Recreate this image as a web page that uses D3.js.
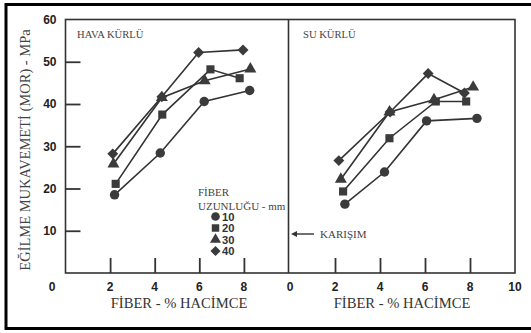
<!DOCTYPE html>
<html><head><meta charset="utf-8">
<script src="https://cdn.jsdelivr.net/npm/d3@7"></script>
<style>body{margin:0;background:#fff}svg{display:block}</style>
</head><body>
<script>
// ---- data ----
const lengths = ["10","20","30","40"];
const symbolsNames = ["circle","square","triangle","diamond"];
// HAVA KÜRLÜ (left panel): [fiber %, MOR MPa]
const hava10 = [[2.2,18.5],[4.25,28.4],[6.22,40.6],[8.26,43.2]];
const hava20 = [[2.25,21.1],[4.34,37.5],[6.5,48.2],[7.81,46.1]];
const hava30 = [[2.15,25.8],[4.32,41.5],[6.24,45.5],[8.29,48.3]];
const hava40 = [[2.12,28.2],[4.32,41.7],[5.97,52.2],[7.96,52.8]];
// SU KÜRLÜ (right panel)
const su10 = [[2.44,16.3],[4.2,23.9],[6.07,36.0],[8.31,36.6]];
const su20 = [[2.36,19.3],[4.42,31.9],[6.48,40.6],[7.83,40.6]];
const su30 = [[2.26,22.2],[4.42,38.1],[6.4,41.0],[8.14,44.0]];
const su40 = [[2.17,26.6],[4.45,38.1],[6.14,47.2],[7.75,42.6]];
const yTicks = [10,20,30,40,50];
const yLabels = [10,20,30,40,50,60];
const xTicks = [2,4,6,8];
const xLabelsLeft = [2,4,6,8];
const xLabelsRight = [0,2,4,6,8,10];

const W=531,H=333;
const svg=d3.select("body").append("svg").attr("width",W).attr("height",H);
const pTop=19.5,pBot=273,pLeft=65.5,pMid=288.5,pRight=515;
const y=d3.scaleLinear().domain([0,60]).range([pBot,pTop]);
const xL=d3.scaleLinear().domain([0,10]).range([pLeft,pMid]);
const xR=d3.scaleLinear().domain([0,10]).range([pMid+1.5,pRight]);

const ink="#333";
// outer border
svg.append("path").attr("d",`M${W+5},4.5 H6 V328.5 H${W+5}`).attr("fill","none").attr("stroke","#000").attr("stroke-width",3);

// frame
svg.append("rect").attr("x",pLeft).attr("y",pTop).attr("width",pRight-pLeft).attr("height",pBot-pTop)
  .attr("fill","none").attr("stroke",ink).attr("stroke-width",1.6);
svg.append("line").attr("x1",pMid).attr("x2",pMid).attr("y1",pTop).attr("y2",pBot).attr("stroke",ink).attr("stroke-width",1.6);

// y ticks inward
const yAx=svg.append("g").attr("transform",`translate(${pLeft},0)`)
  .call(d3.axisLeft(y).tickValues(yTicks).tickSize(-15).tickFormat(""));
yAx.select(".domain").remove();
yAx.selectAll("line").attr("stroke",ink).attr("stroke-width",1.8);
// x ticks inward
[xL,xR].forEach(sc=>{
  const g=svg.append("g").attr("transform",`translate(0,${pBot})`)
    .call(d3.axisBottom(sc).tickValues(xTicks).tickSize(-15).tickFormat(""));
  g.select(".domain").remove();
  g.selectAll("line").attr("stroke",ink).attr("stroke-width",1.8);
});

const numFont="'Liberation Sans',Arial,sans-serif";
const serif="'Liberation Serif','Times New Roman',serif";
// y labels
svg.selectAll(".yl").data(yLabels).enter().append("text")
  .attr("x",56.5).attr("y",d=>y(d)+4.3).attr("text-anchor","end")
  .attr("font-family",numFont).attr("font-weight","bold").attr("font-size",12).attr("fill","#222").text(d=>d);
svg.append("text").attr("x",52).attr("y",291).attr("text-anchor","middle")
  .attr("font-family",numFont).attr("font-weight","bold").attr("font-size",12).attr("fill","#222").text("0");
svg.selectAll(".xll").data(xLabelsLeft).enter().append("text")
  .attr("x",d=>xL(d)).attr("y",291).attr("text-anchor","middle")
  .attr("font-family",numFont).attr("font-weight","bold").attr("font-size",12).attr("fill","#222").text(d=>d);
svg.selectAll(".xlr").data(xLabelsRight).enter().append("text")
  .attr("x",d=>xR(d)).attr("y",291).attr("text-anchor","middle")
  .attr("font-family",numFont).attr("font-weight","bold").attr("font-size",12).attr("fill","#222").text(d=>d);

// titles
svg.append("text").attr("transform","translate(30,150) rotate(-90)").attr("text-anchor","middle")
  .attr("font-family",serif).attr("font-size",14.5).attr("fill","#444").text("EĞİLME MUKAVEMETİ (MOR) - MPa");
svg.append("text").attr("x",179).attr("y",308).attr("text-anchor","middle")
  .attr("font-family",serif).attr("font-size",14.6).attr("fill","#333").text("FİBER - % HACİMCE");
svg.append("text").attr("x",402).attr("y",308).attr("text-anchor","middle")
  .attr("font-family",serif).attr("font-size",14.6).attr("fill","#333").text("FİBER - % HACİMCE");
svg.append("text").attr("x",77).attr("y",38).attr("font-family",serif).attr("font-size",10.6).attr("fill","#444").text("HAVA KÜRLÜ");
svg.append("text").attr("x",303).attr("y",38).attr("font-family",serif).attr("font-size",10.6).attr("fill","#444").text("SU KÜRLÜ");

// symbols
const mk="#3b3b3b";
function sym(g,type,cx,cy,s){
  s=s||1;
  let t,size,rot=0;
  if(type==="circle"){t=d3.symbolCircle;size=70;}
  else if(type==="square"){t=d3.symbolSquare;size=66;}
  else if(type==="triangle"){t=d3.symbolTriangle;size=62;}
  else {t=d3.symbolSquare;size=60;rot=45;}
  g.append("path").attr("d",d3.symbol().type(t).size(size*s*s)())
   .attr("transform",`translate(${cx},${cy}) rotate(${rot})`).attr("fill",mk);
}
const line=(sc)=>d3.line().x(d=>sc(d[0])).y(d=>y(d[1]));
const panels=[[xL,[hava10,hava20,hava30,hava40]],[xR,[su10,su20,su30,su40]]];
panels.forEach(([sc,series])=>{
  const g=svg.append("g");
  series.forEach(s=>{
    g.append("path").attr("d",line(sc)(s)).attr("fill","none").attr("stroke",ink).attr("stroke-width",1.6);
  });
  series.forEach((s,i)=>{
    s.forEach(p=>sym(g,symbolsNames[i],sc(p[0]),y(p[1])));
  });
});

// legend
svg.append("text").attr("x",198).attr("y",196).attr("font-family",serif).attr("font-size",11).attr("fill","#444").text("FİBER");
svg.append("text").attr("x",198).attr("y",210).attr("font-family",serif).attr("font-size",11).attr("fill","#444").text("UZUNLUĞU - mm");
const lg=svg.append("g");
const lgStep=11.5, lgY0=216.5;
lengths.forEach((l,i)=>{
  const cy=lgY0+i*lgStep;
  sym(lg,symbolsNames[i],215.5,cy,0.92);
  lg.append("text").attr("x",222).attr("y",cy+4.1).attr("font-family",numFont).attr("font-weight","bold")
    .attr("font-size",11.2).attr("fill","#333").text(l);
});

// KARIŞIM arrow
svg.append("line").attr("x1",314).attr("x2",295).attr("y1",234).attr("y2",234).attr("stroke",ink).attr("stroke-width",1.4);
svg.append("path").attr("d","M291,234 L297,231 L297,237 Z").attr("fill",ink);
svg.append("text").attr("x",320).attr("y",238).attr("font-family",serif).attr("font-size",11).attr("fill","#444").text("KARIŞIM");
</script>
</body></html>
